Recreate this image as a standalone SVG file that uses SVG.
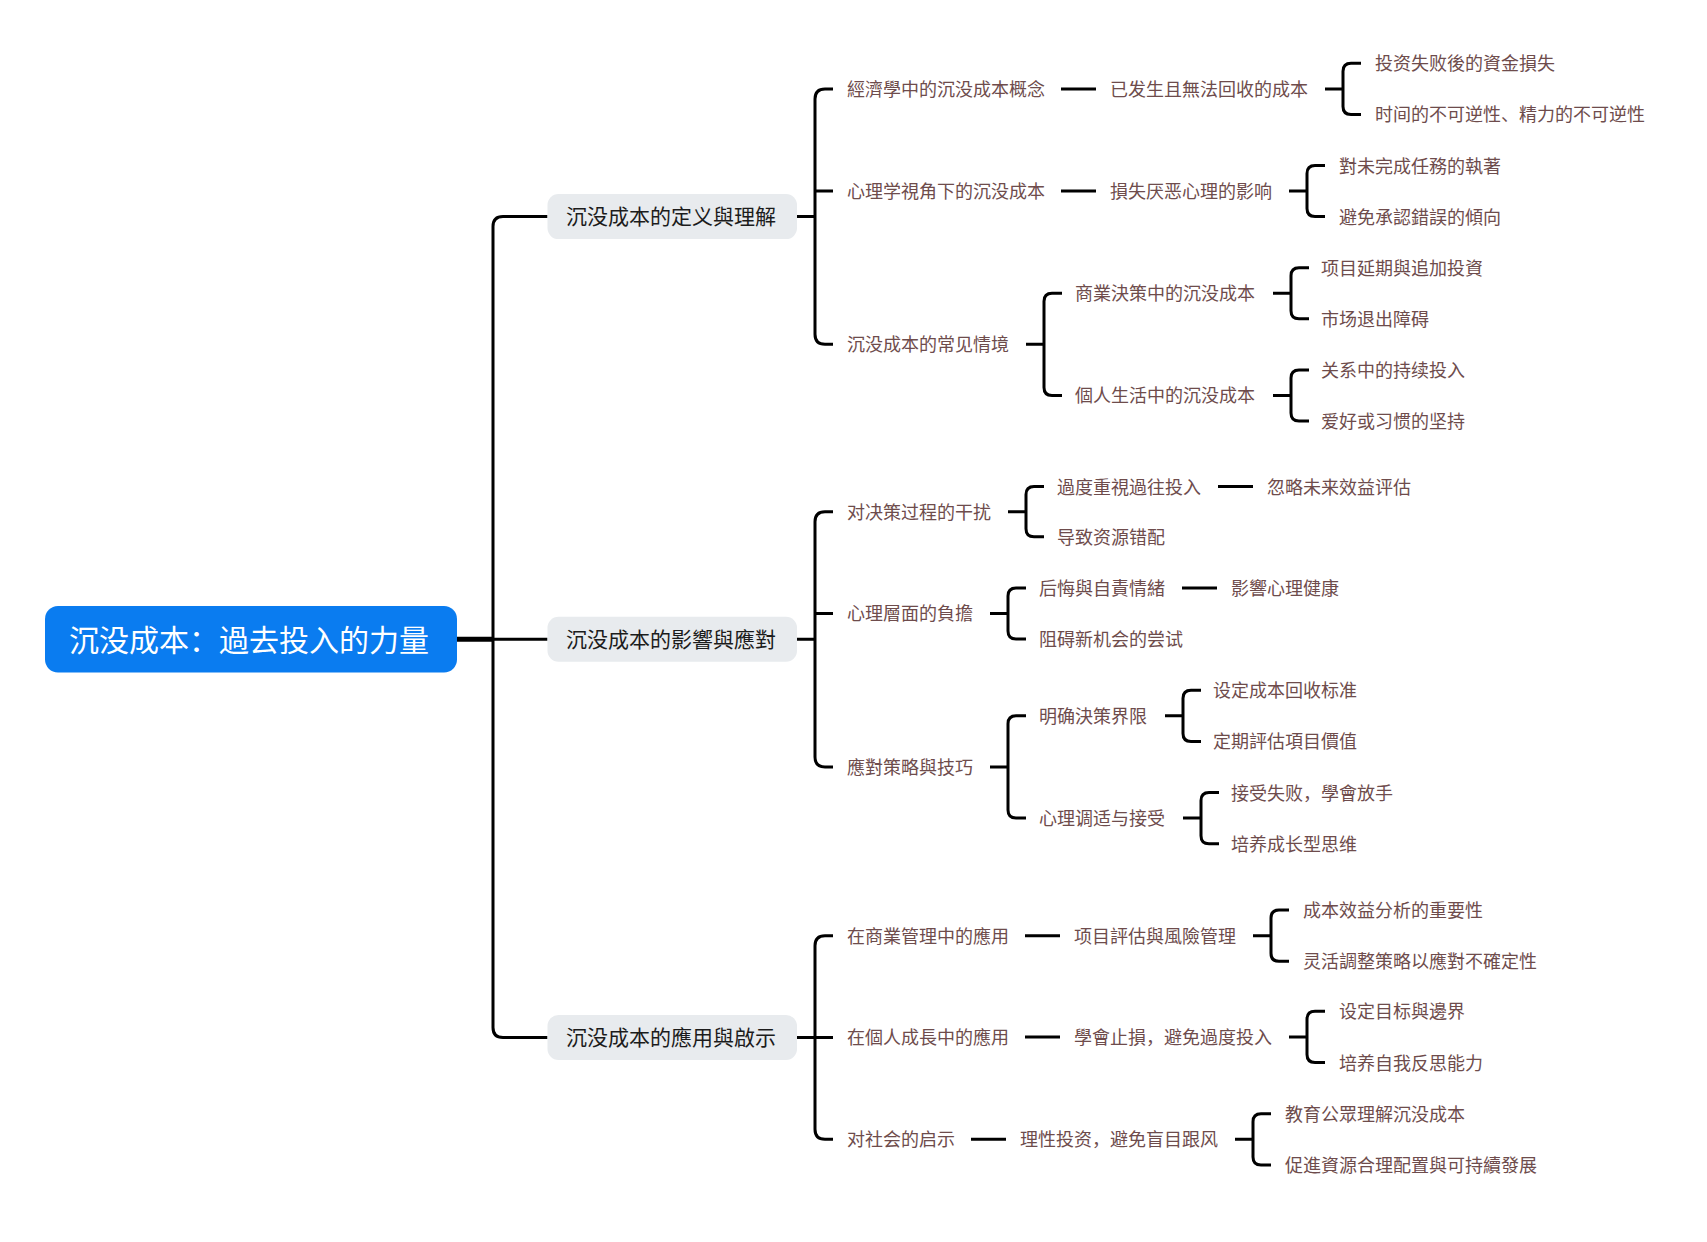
<svg xmlns="http://www.w3.org/2000/svg" width="1707" height="1242" viewBox="0 0 1707 1242">
<style>
.t{font-family:"Noto Sans CJK SC","Noto Sans CJK TC",sans-serif;font-size:18px;fill:#6e4c4c;dominant-baseline:central}
.s{font-family:"Noto Sans CJK SC","Noto Sans CJK TC",sans-serif;font-size:21px;fill:#1c1c1c;dominant-baseline:central;text-anchor:middle}
.r{font-family:"Noto Sans CJK SC","Noto Sans CJK TC",sans-serif;font-size:30px;fill:#ffffff;dominant-baseline:central;text-anchor:middle}
.ln{fill:none;stroke:#000;stroke-width:3;stroke-linecap:butt}
.sb{fill:#e8ebee}
</style>
<rect width="1707" height="1242" fill="#ffffff"/>
<g id="connectors">
<path class="ln" d="M457,639.3 H493" style="stroke-width:5"/>
<path class="ln" d="M547.5,216.6 H503 Q493,216.6 493,226.6 V1027.5 Q493,1037.5 503,1037.5 H547.5 M493,639.3 H547.5"/>
<path class="ln" d="M833,88.9 H825 Q815,88.9 815,98.9 V334.3 Q815,344.3 825,344.3 H833 M797,216.6 H815 M815,191 H833"/>
<path class="ln" d="M1061,88.9 H1096 M1061,191 H1096"/>
<path class="ln" d="M1361,63.3 H1351 Q1343,63.3 1343,71.3 V106.4 Q1343,114.4 1351,114.4 H1361 M1325,88.9 H1343"/>
<path class="ln" d="M1325,165.5 H1315 Q1307,165.5 1307,173.5 V208.6 Q1307,216.6 1315,216.6 H1325 M1289,191 H1307"/>
<path class="ln" d="M1062,293.2 H1052 Q1044,293.2 1044,301.2 V387.4 Q1044,395.4 1052,395.4 H1062 M1026,344.3 H1044"/>
<path class="ln" d="M1309,267.7 H1299 Q1291,267.7 1291,275.7 V310.8 Q1291,318.8 1299,318.8 H1309 M1273,293.2 H1291"/>
<path class="ln" d="M1309,369.9 H1299 Q1291,369.9 1291,377.9 V413 Q1291,421 1299,421 H1309 M1273,395.4 H1291"/>
<path class="ln" d="M833,511.65 H825 Q815,511.65 815,521.65 V756.95 Q815,766.95 825,766.95 H833 M797,639.3 H815 M815,613.45 H833"/>
<path class="ln" d="M1044,486.6 H1034 Q1026,486.6 1026,494.6 V528.7 Q1026,536.7 1034,536.7 H1044 M1008,511.65 H1026"/>
<path class="ln" d="M1218,486.6 H1253 M1182,587.9 H1217"/>
<path class="ln" d="M1026,587.9 H1016 Q1008,587.9 1008,595.9 V631 Q1008,639 1016,639 H1026 M990,613.45 H1008"/>
<path class="ln" d="M1026,715.8 H1016 Q1008,715.8 1008,723.8 V810.1 Q1008,818.1 1016,818.1 H1026 M990,766.95 H1008"/>
<path class="ln" d="M1201,690.2 H1191 Q1183,690.2 1183,698.2 V733.4 Q1183,741.4 1191,741.4 H1201 M1165,715.8 H1183"/>
<path class="ln" d="M1219,792.5 H1209 Q1201,792.5 1201,800.5 V835.7 Q1201,843.7 1209,843.7 H1219 M1183,818.1 H1201"/>
<path class="ln" d="M833,935.65 H825 Q815,935.65 815,945.65 V1129.3 Q815,1139.3 825,1139.3 H833 M797,1037.5 H833"/>
<path class="ln" d="M1025,935.65 H1060 M1025,1036.9 H1060 M971,1139.3 H1006"/>
<path class="ln" d="M1289,910 H1279 Q1271,910 1271,918 V953.3 Q1271,961.3 1279,961.3 H1289 M1253,935.65 H1271"/>
<path class="ln" d="M1325,1011.3 H1315 Q1307,1011.3 1307,1019.3 V1054.5 Q1307,1062.5 1315,1062.5 H1325 M1289,1036.9 H1307"/>
<path class="ln" d="M1271,1113.7 H1261 Q1253,1113.7 1253,1121.7 V1156.9 Q1253,1164.9 1261,1164.9 H1271 M1235,1139.3 H1253"/>
</g>
<g id="root"><rect x="45" y="606" width="412" height="66.6" rx="13" fill="#0a7cf0"/><text class="r" x="249" y="638.3">沉没成本：過去投入的力量</text></g>
<g id="sec1"><rect class="sb" x="547.5" y="194.1" width="249.5" height="45" rx="11"/><text class="s" x="671" y="215">沉没成本的定义與理解</text></g>
<g id="sec2"><rect class="sb" x="547.5" y="616.8" width="249.5" height="45" rx="11"/><text class="s" x="671" y="637.7">沉没成本的影響與應對</text></g>
<g id="sec3"><rect class="sb" x="547.5" y="1015" width="249.5" height="45" rx="11"/><text class="s" x="671" y="1035.9">沉没成本的應用與啟示</text></g>
<g id="nodes" transform="translate(0,-1)">
<g id="n1"><text class="t" x="847" y="88.9">經濟學中的沉没成本概念</text></g>
<g id="n1a"><text class="t" x="1110" y="88.9">已发生且無法回收的成本</text></g>
<g id="n1a1"><text class="t" x="1375" y="63.3">投资失败後的資金損失</text></g>
<g id="n1a2"><text class="t" x="1375" y="114.4">时间的不可逆性、精力的不可逆性</text></g>
<g id="n2"><text class="t" x="847" y="191">心理学視角下的沉没成本</text></g>
<g id="n2a"><text class="t" x="1110" y="191">損失厌恶心理的影响</text></g>
<g id="n2a1"><text class="t" x="1339" y="165.5">對未完成任務的執著</text></g>
<g id="n2a2"><text class="t" x="1339" y="216.6">避免承認錯誤的傾向</text></g>
<g id="n3"><text class="t" x="847" y="344.3">沉没成本的常见情境</text></g>
<g id="n3a"><text class="t" x="1075" y="293.2">商業決策中的沉没成本</text></g>
<g id="n3a1"><text class="t" x="1321" y="267.7">项目延期與追加投資</text></g>
<g id="n3a2"><text class="t" x="1321" y="318.8">市场退出障碍</text></g>
<g id="n3b"><text class="t" x="1075" y="395.4">個人生活中的沉没成本</text></g>
<g id="n3b1"><text class="t" x="1321" y="369.9">关系中的持续投入</text></g>
<g id="n3b2"><text class="t" x="1321" y="421">爱好或习惯的坚持</text></g>
<g id="n4"><text class="t" x="847" y="511.65">对决策过程的干扰</text></g>
<g id="n4a"><text class="t" x="1057" y="486.6">過度重視過往投入</text></g>
<g id="n4a1"><text class="t" x="1267" y="486.6">忽略未来效益评估</text></g>
<g id="n4b"><text class="t" x="1057" y="536.7">导致资源错配</text></g>
<g id="n5"><text class="t" x="847" y="613.45">心理層面的負擔</text></g>
<g id="n5a"><text class="t" x="1039" y="587.9">后悔與自責情緒</text></g>
<g id="n5a1"><text class="t" x="1231" y="587.9">影響心理健康</text></g>
<g id="n5b"><text class="t" x="1039" y="639">阻碍新机会的尝试</text></g>
<g id="n6"><text class="t" x="847" y="766.95">應對策略與技巧</text></g>
<g id="n6a"><text class="t" x="1039" y="715.8">明确決策界限</text></g>
<g id="n6a1"><text class="t" x="1213" y="690.2">设定成本回收标准</text></g>
<g id="n6a2"><text class="t" x="1213" y="741.4">定期評估項目價值</text></g>
<g id="n6b"><text class="t" x="1039" y="818.1">心理调适与接受</text></g>
<g id="n6b1"><text class="t" x="1231" y="792.5">接受失败，學會放手</text></g>
<g id="n6b2"><text class="t" x="1231" y="843.7">培养成长型思维</text></g>
<g id="n7"><text class="t" x="847" y="935.65">在商業管理中的應用</text></g>
<g id="n7a"><text class="t" x="1074" y="935.65">项目評估與風險管理</text></g>
<g id="n7a1"><text class="t" x="1303" y="910">成本效益分析的重要性</text></g>
<g id="n7a2"><text class="t" x="1303" y="961.3">灵活調整策略以應對不確定性</text></g>
<g id="n8"><text class="t" x="847" y="1036.9">在個人成長中的應用</text></g>
<g id="n8a"><text class="t" x="1074" y="1036.9">學會止損，避免過度投入</text></g>
<g id="n8a1"><text class="t" x="1339" y="1011.3">设定目标與邊界</text></g>
<g id="n8a2"><text class="t" x="1339" y="1062.5">培养自我反思能力</text></g>
<g id="n9"><text class="t" x="847" y="1139.3">对社会的启示</text></g>
<g id="n9a"><text class="t" x="1020" y="1139.3">理性投资，避免盲目跟风</text></g>
<g id="n9a1"><text class="t" x="1285" y="1113.7">教育公眾理解沉没成本</text></g>
<g id="n9a2"><text class="t" x="1285" y="1164.9">促進資源合理配置與可持續發展</text></g>
</g>
</svg>
